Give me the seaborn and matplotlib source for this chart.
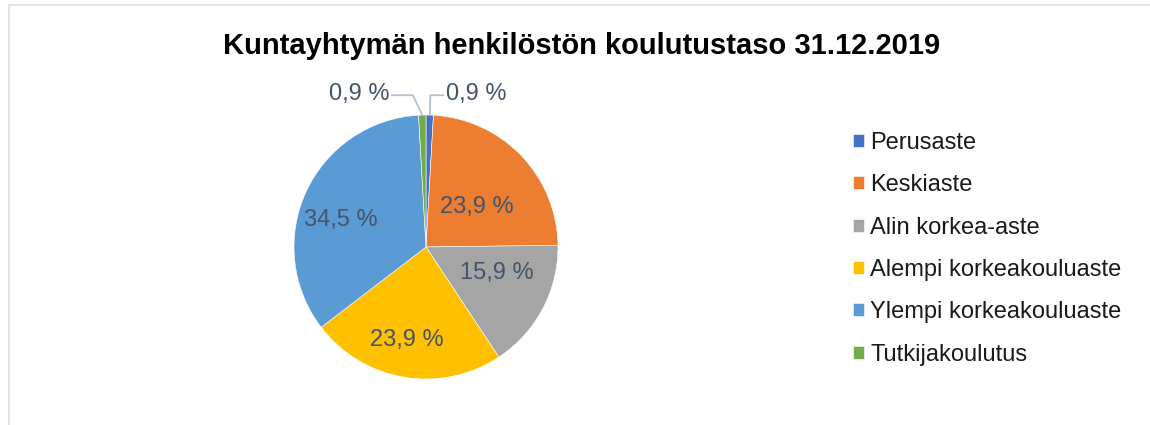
import numpy as np
import matplotlib
matplotlib.use("Agg")
import matplotlib.pyplot as plt
import seaborn as sns
from matplotlib.patches import Rectangle

sns.set_theme(style="white")
plt.rcParams['font.family'] = ['Liberation Sans', 'DejaVu Sans']

title = "Kuntayhtymän henkilöstön koulutustaso 31.12.2019"
categories = ["Perusaste", "Keskiaste", "Alin korkea-aste",
              "Alempi korkeakouluaste", "Ylempi korkeakouluaste", "Tutkijakoulutus"]
values = [0.9, 23.9, 15.9, 23.9, 34.5, 0.9]
value_labels = ["0,9 %", "23,9 %", "15,9 %", "23,9 %", "34,5 %", "0,9 %"]
colors = ["#4472C4", "#ED7D31", "#A5A5A5", "#FFC000", "#5B9BD5", "#70AD47"]

W, H = 1150, 425
fig = plt.figure(figsize=(W / 100, H / 100), dpi=100)

# chart border
fig.patches.append(Rectangle((9 / W, -0.1), 1.2, 1 - 5 / H + 0.1, transform=fig.transFigure,
                             fill=False, edgecolor="#D9DDE3", linewidth=1.2))

cx, cy, r = 426, H - 247, 132
ax = fig.add_axes([(cx - r) / W, (cy - r) / H, 2 * r / W, 2 * r / H])
wedges, _ = ax.pie(values, colors=colors, startangle=90, counterclock=False,
                   radius=1, wedgeprops=dict(edgecolor="white", linewidth=0.4))
ax.set_xlim(-1, 1)
ax.set_ylim(-1, 1)
ax.set_aspect("equal")
ax.axis("off")

label_color = "#44546A"
fs_lab = 17
# inside label placement (radial distance, angle shift in degrees)
inside = {1: (0.49, -5), 2: (0.57, 8), 3: (0.72, -2), 4: (0.68, 7)}
for i, w in enumerate(wedges):
    mid = np.deg2rad((w.theta1 + w.theta2) / 2)
    if i in inside:
        d, shift = inside[i]
        a = mid + np.deg2rad(shift)
        ax.text(d * np.cos(a), d * np.sin(a), value_labels[i], ha="center", va="center",
                fontsize=fs_lab, color=label_color)

# outside labels for the two thin slices
edge_pts = {}
for i in (0, 5):
    w = wedges[i]
    mid = np.deg2rad((w.theta1 + w.theta2) / 2)
    edge_pts[i] = (np.cos(mid), np.sin(mid))

lc = "#B4C0CF"
# Perusaste (right)
x0, y0 = edge_pts[0]
ax.plot([x0, x0 + 0.005, 0.13], [y0, 1.15, 1.15], color=lc, lw=1.3, clip_on=False)
ax.text(0.15, 1.16, value_labels[0], ha="left", va="center", fontsize=fs_lab, color=label_color)
# Tutkijakoulutus (left)
x5, y5 = edge_pts[5]
ax.plot([x5, -0.10, -0.26], [y5, 1.15, 1.15], color=lc, lw=1.3, clip_on=False)
ax.text(-0.28, 1.16, value_labels[5], ha="right", va="center", fontsize=fs_lab, color=label_color)

fig.text(582 / W, 1 - 46 / H, title, ha="center", va="center", fontsize=21,
         fontweight="bold", color="black")

leg = fig.legend(wedges, categories, loc="upper left", bbox_to_anchor=(853 / W, 1 - 132 / H),
                 frameon=False, fontsize=17, handlelength=0.48, handleheight=0.48,
                 handletextpad=0.25, labelspacing=0.86, borderaxespad=0, borderpad=0)
for t in leg.get_texts():
    t.set_color("#1a1a1a")

fig.savefig("out.png", dpi=100)
